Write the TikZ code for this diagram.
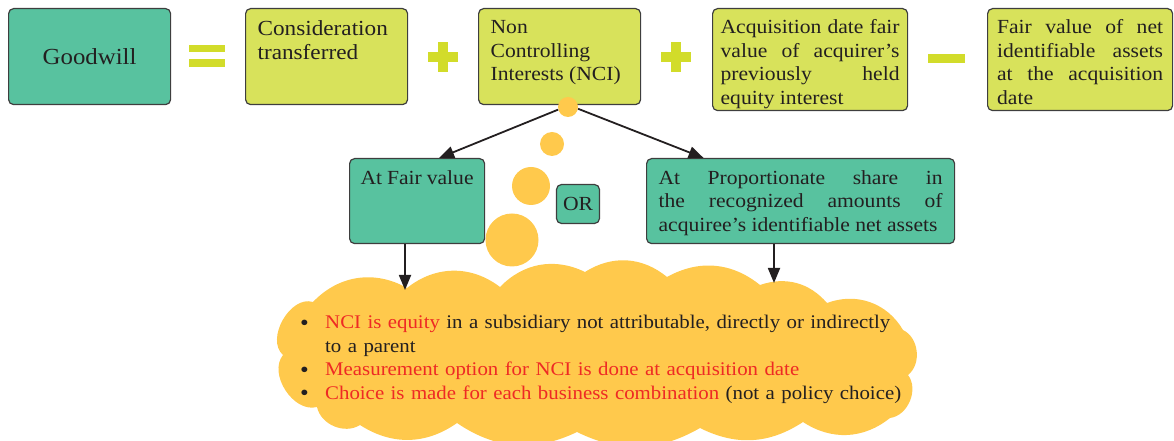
\documentclass[tikz,border=0pt]{standalone}
\usepackage{fontspec}
\setmainfont{Liberation Serif}[FakeStretch=1.08]
\usetikzlibrary{arrows.meta,positioning,calc}

\definecolor{gwteal}{HTML}{58C29F}
\definecolor{boxlime}{HTML}{D8E25B}
\definecolor{signlime}{HTML}{D2DC2A}
\definecolor{puff}{HTML}{FFC94C}
\definecolor{edgegray}{HTML}{3E3E3E}
\definecolor{notered}{HTML}{EE2A24}
\definecolor{ink}{HTML}{231F20}

\tikzset{
  box/.style={draw=edgegray, line width=1.2pt, rounded corners=5pt, anchor=north west, inner sep=0pt},
  tealbox/.style={box, fill=gwteal},
  limebox/.style={box, fill=boxlime},
  sign/.style={fill=signlime},
  bubble/.style={circle, fill=puff, inner sep=0pt},
  link/.style={draw=ink, line width=1.8pt, -{Triangle[length=15pt,width=12pt]}}
}
\newcommand{\boxtext}[3]{\parbox[c][#2][t]{#1}{#3}}
\newcommand{\noteline}[1]{\par\noindent\hangindent=29pt\hangafter=1\makebox[29pt][l]{\hspace{4pt}\raisebox{-1.5pt}{\fontsize{23}{23}\selectfont\textbullet}}#1}

\begin{document}
\begin{tikzpicture}[x=1pt, y=1pt, font=\fontsize{20}{23.5}\selectfont, text=ink]
  \useasboundingbox (0,0) rectangle (1174,441);

  % cloud with the notes
  \fill[puff] (313,139) to[bend left=38] (407,153) to[bend left=38] (500,154)
    to[bend left=36] (585,169) to[bend left=36] (667,164) to[bend left=34] (760,156)
    to[bend left=34] (827,138) to[bend left=40] (903,111) to[bend left=58] (908,66)
    to[bend left=60] (890,23) to[bend left=36] (803,19) to[bend left=30] (700,13)
    to[bend left=28] (577,9) to[bend left=30] (457,18) to[bend left=34] (360,16)
    to[bend left=55] (317,34) to[bend left=72] (283,86) to[bend left=78] cycle;

  % thought bubbles
  \node[bubble, minimum size=24pt] (b2) at (552,297) {};
  \node[bubble, minimum size=38pt] (b3) at (531,255) {};
  \node[bubble, minimum size=53pt] (b4) at (512,201) {};

  % equation row
  \node[tealbox, minimum width=162pt, minimum height=96pt, font=\fontsize{23}{26}\selectfont] (goodwill) at (8,433) {Goodwill};
  \node[limebox, minimum width=162pt, minimum height=96pt, font=\fontsize{21.5}{23.5}\selectfont] (consid) at (245,433)
    {\boxtext{138pt}{72pt}{Consideration\\transferred}};
  \node[limebox, minimum width=162pt, minimum height=96pt] (nci) at (478,433)
    {\boxtext{138pt}{72pt}{Non\\Controlling\\Interests (NCI)}};
  \node[limebox, minimum width=195pt, minimum height=102pt] (prevheld) at (712,433)
    {\boxtext{179pt}{80pt}{Acquisition date fair\linebreak value of acquirer’s\linebreak previously held\linebreak equity interest}};
  \node[limebox, minimum width=185pt, minimum height=102pt] (netassets) at (987,433)
    {\boxtext{166pt}{80pt}{Fair value of net\linebreak identifiable assets\linebreak at the acquisition\linebreak date}};

  % signs
  \fill[sign] (189,389) rectangle (225,396);
  \fill[sign] (189,374) rectangle (225,382);
  \foreach \cx in {443,676} {
    \fill[sign] (\cx-15,379) rectangle (\cx+15,389);
    \fill[sign] (\cx-5,369) rectangle (\cx+5,399);
  }
  \fill[sign] (928,378) rectangle (965,387);

  % measurement options
  \node[tealbox, minimum width=135pt, minimum height=85pt] (fairval) at (349,283)
    {\boxtext{113pt}{61pt}{At Fair value}};
  \node[tealbox, minimum width=308pt, minimum height=85pt] (propshare) at (646,283)
    {\boxtext{284pt}{61pt}{At Proportionate share in\linebreak the recognized amounts of\linebreak acquiree’s identifiable net assets}};
  \node[tealbox, minimum width=43pt, minimum height=39pt, anchor=center] (orbox) at (578,237) {OR};
  \node[bubble, minimum size=20pt] (b1) at (568,334) {};

  % connectors
  \coordinate (fvtip) at (405,151);
  \coordinate (pstip) at (774,158);
  \draw[link] (b1.195) -- ([xshift=22pt]fairval.north);
  \draw[link] (b1.-10) -- ([xshift=-97pt]propshare.north);
  \draw[link] (fairval.south -| fvtip) -- (fvtip);
  \draw[link] (propshare.south -| pstip) -- (pstip);

  % notes
  \node[anchor=north west, text width=660pt, inner sep=0pt, align=left, font=\fontsize{19.3}{23.5}\selectfont] (notes) at (296,136)
    {\noteline{\textcolor{notered}{NCI is equity} in a subsidiary not attributable, directly or indirectly\newline to a parent}
     \noteline{\textcolor{notered}{Measurement option for NCI is done at acquisition date}}
     \noteline{\textcolor{notered}{Choice is made for each business combination} (not a policy choice)}};
\end{tikzpicture}
\end{document}
